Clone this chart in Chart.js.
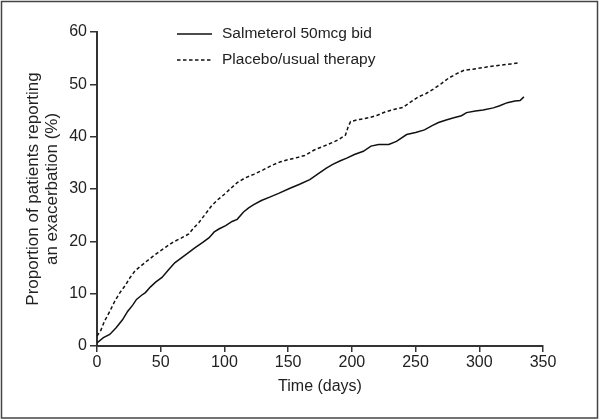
<!DOCTYPE html>
<html>
<head>
<meta charset="utf-8">
<script src="https://cdn.jsdelivr.net/npm/chart.js@4"></script>
<style>
  html, body { margin: 0; padding: 0; background: #fff; }
  #wrap { width: 600px; height: 420px; position: relative; }
</style>
</head>
<body>
<div id="wrap"><canvas id="myChart" width="600" height="420"></canvas></div>
<script>
// values
const salmeterolDays = [0, 5, 10, 15, 20, 24, 28, 31, 35, 38, 42, 46, 51, 56, 61, 66, 71, 77, 83, 88,
  92, 96, 101, 106, 110, 115, 119, 123, 129, 136, 143, 151, 159, 167, 174, 180, 185, 191, 196, 202,
  209, 215, 221, 229, 235, 243, 250, 257, 263, 268, 274, 280, 286, 290, 297, 303, 311, 316, 322, 328, 332, 335];
const salmeterolPct = [0.6, 1.6, 2.2, 3.5, 5.0, 6.6, 7.8, 8.9, 9.7, 10.2, 11.3, 12.2, 13.1, 14.5, 15.9, 16.8, 17.7, 18.8, 19.8, 20.7,
  21.8, 22.4, 23.0, 23.8, 24.2, 25.6, 26.4, 27.0, 27.8, 28.5, 29.2, 30.1, 30.9, 31.8, 33.0, 34.0, 34.7, 35.4, 35.9, 36.6,
  37.2, 38.2, 38.5, 38.5, 39.1, 40.4, 40.8, 41.3, 42.1, 42.7, 43.2, 43.6, 44.0, 44.6, 44.9, 45.1, 45.5, 45.9, 46.5, 46.8, 46.9, 47.6];

const placeboDays = [0, 3, 6, 10, 14, 18, 22, 26, 30, 35, 41, 47, 54, 60, 66, 72, 76, 80, 85, 90,
  95, 100, 104, 110, 116, 123, 130, 137, 144, 150, 157, 163, 170, 178, 185, 190, 195, 197, 199, 206,
  213, 220, 226, 233, 240, 246, 252, 258, 264, 270, 276, 282, 288, 295, 303, 311, 318, 325, 331];
const placeboPct = [1.9, 3.0, 4.8, 6.6, 8.6, 10.2, 11.5, 13.1, 14.4, 15.4, 16.6, 17.7, 18.9, 19.9, 20.6, 21.4, 22.6, 23.6, 25.2, 26.8,
  28.0, 29.0, 29.9, 31.2, 32.1, 32.8, 33.6, 34.5, 35.2, 35.6, 36.0, 36.4, 37.4, 38.2, 38.9, 39.5, 40.3, 41.8, 42.9, 43.3,
  43.6, 44.1, 44.7, 45.2, 45.6, 46.6, 47.6, 48.2, 49.1, 50.1, 51.2, 52.0, 52.7, 52.9, 53.2, 53.5, 53.7, 53.9, 54.1];

const seriesLabels = ['Salmeterol 50mcg bid', 'Placebo/usual therapy'];
const xTitle = 'Time (days)';
const yTitle = ['Proportion of patients reporting', 'an exacerbation (%)'];

const toPoints = (days, pct) => days.map((d, i) => ({ x: d, y: pct[i] }));

const ink = '#222';
const axisInk = '#333';
const fontFamily = '"Liberation Sans", Arial, Helvetica, sans-serif';

// white page with thin frame round it
const framePlugin = {
  id: 'frame',
  beforeDraw(chart) {
    const c = chart.ctx;
    c.save();
    c.fillStyle = '#fff';
    c.fillRect(0, 0, chart.width, chart.height);
    c.strokeStyle = '#444';
    c.lineWidth = 1.5;
    c.strokeRect(1.5, 1.5, chart.width - 4, chart.height - 3.5);
    c.restore();
  }
};

// legend drawn inside the plot, like the original
const legendPlugin = {
  id: 'insideLegend',
  afterDraw(chart) {
    const c = chart.ctx;
    c.save();
    chart.data.datasets.forEach((ds, i) => {
      const y = 34 + i * 26;
      c.beginPath();
      c.strokeStyle = ds.borderColor;
      c.lineWidth = ds.borderWidth;
      c.setLineDash(ds.borderDash || []);
      c.moveTo(177, y);
      c.lineTo(212, y);
      c.stroke();
      c.setLineDash([]);
      c.fillStyle = ink;
      c.font = '15.5px ' + fontFamily;
      c.textBaseline = 'middle';
      c.fillText(ds.label, 222, y);
    });
    c.restore();
  }
};

const ctx = document.getElementById('myChart').getContext('2d');
let myChart = new Chart(ctx, {
  type: 'line',
  data: {
    datasets: [
      {
        label: seriesLabels[0],
        data: toPoints(salmeterolDays, salmeterolPct),
        borderColor: '#111',
        borderWidth: 1.5,
        pointRadius: 0,
        tension: 0,
        fill: false
      },
      {
        label: seriesLabels[1],
        data: toPoints(placeboDays, placeboPct),
        borderColor: '#111',
        borderWidth: 1.5,
        borderDash: [3.5, 2.5],
        pointRadius: 0,
        tension: 0,
        fill: false
      }
    ]
  },
  options: {
    responsive: false,
    animation: false,
    layout: { padding: { top: 32, right: 57, left: 0, bottom: 0 } },
    plugins: {
      legend: { display: false },
      tooltip: { enabled: false }
    },
    scales: {
      x: {
        type: 'linear',
        min: 0,
        max: 350,
        afterFit: (s) => { s.height = 74; },
        ticks: { stepSize: 50, color: ink, font: { family: fontFamily, size: 16 }, padding: 1, maxRotation: 0 },
        grid: { drawOnChartArea: false, drawTicks: true, tickLength: 6, color: axisInk, lineWidth: 1.5 },
        border: { color: axisInk, width: 2 },
        title: { display: true, text: xTitle, color: ink, font: { family: fontFamily, size: 16 }, padding: { top: 4, bottom: 24 } }
      },
      y: {
        min: 0,
        max: 60,
        afterFit: (s) => { s.width = 97; },
        ticks: { stepSize: 10, color: ink, font: { family: fontFamily, size: 16 }, padding: 3 },
        grid: { drawOnChartArea: false, drawTicks: true, tickLength: 7, color: axisInk, lineWidth: 1.5 },
        border: { color: axisInk, width: 2 },
        title: { display: true, text: yTitle, color: ink, font: { family: fontFamily, size: 17, lineHeight: 1.12 }, padding: { top: 23.5 } }
      }
    }
  },
  plugins: [framePlugin, legendPlugin]
});
</script>
</body>
</html>
